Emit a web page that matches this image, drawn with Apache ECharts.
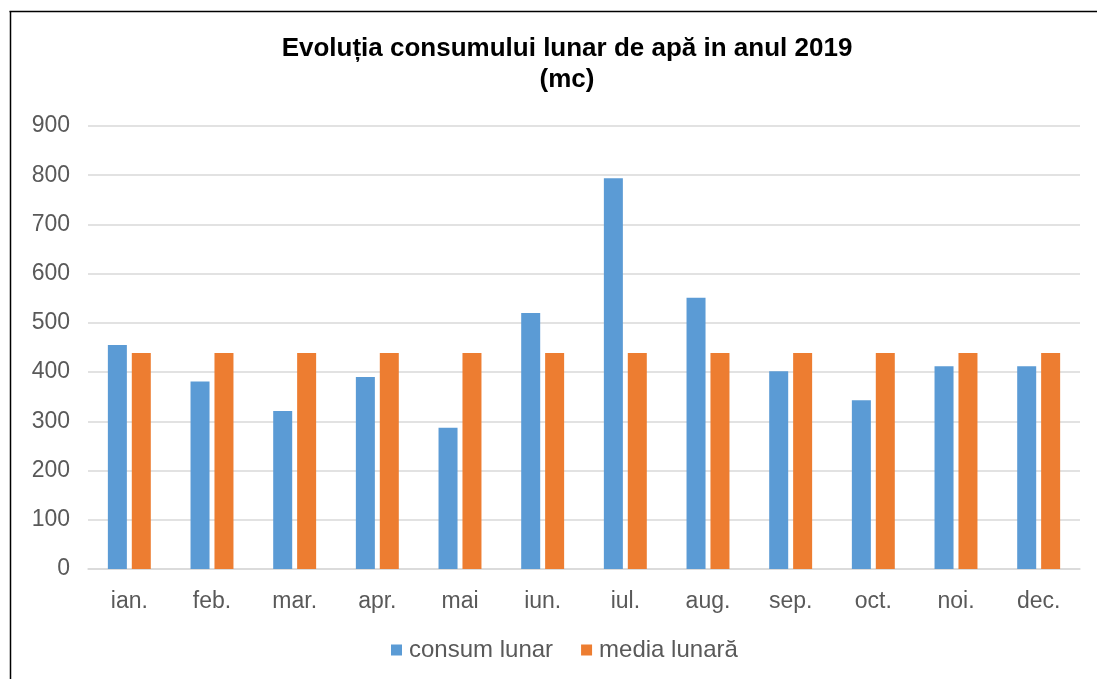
<!DOCTYPE html>
<html>
<head>
<meta charset="utf-8">
<script src="https://cdn.jsdelivr.net/npm/echarts@6/dist/echarts.min.js"></script>
<style>
html,body{margin:0;padding:0;background:#fff;}
#chart{width:1097px;height:679px;}
</style>
</head>
<body>
<div id="chart"></div>
<script>
var categories = ['ian.','feb.','mar.','apr.','mai','iun.','iul.','aug.','sep.','oct.','noi.','dec.'];
var consumLunar = [455, 381, 321, 390, 287, 520, 794, 551, 402, 343, 412, 412];
var mediaLunara = [439, 439, 439, 439, 439, 439, 439, 439, 439, 439, 439, 439];
var seriesNames = ['consum lunar', 'media lunară'];

var chart = echarts.init(document.getElementById('chart'));
var font = 'Liberation Sans, Arial, sans-serif';
chart.setOption({
  animation: false,
  title: {
    text: 'Evoluția consumului lunar de apă in anul 2019\n(mc)',
    left: 562, top: 28, textAlign: 'center',
    textStyle: {fontFamily: font, fontSize: 26, fontWeight: 'bold', color: '#000', lineHeight: 31}
  },
  graphic: [
    {type: 'line', silent: true, shape: {x1: 9.5, y1: 11.5, x2: 1097, y2: 11.5},
     style: {stroke: '#000', lineWidth: 1.5}},
    {type: 'line', silent: true, shape: {x1: 10.5, y1: 11, x2: 10.5, y2: 679},
     style: {stroke: '#000', lineWidth: 1.5}}
  ],
  legend: {
    bottom: 12, left: 386,
    itemWidth: 11, itemHeight: 11, itemGap: 28,
    icon: 'rect',
    textStyle: {fontFamily: font, fontSize: 24, color: '#595959', padding: [0, 0, 0, 2]},
    data: seriesNames
  },
  grid: {left: 88, right: 17, top: 126, bottom: 110},
  xAxis: {
    type: 'category', data: categories,
    axisLine: {lineStyle: {color: '#d9d9d9', width: 1.5}},
    axisTick: {show: false},
    axisLabel: {fontFamily: font, fontSize: 23, color: '#595959', margin: 21}
  },
  yAxis: {
    type: 'value', min: 0, max: 900, interval: 100,
    axisLine: {show: false}, axisTick: {show: false},
    splitLine: {lineStyle: {color: '#d9d9d9', width: 1.5}},
    axisLabel: {fontFamily: font, fontSize: 23, color: '#595959', margin: 18}
  },
  series: [
    {name: seriesNames[0], type: 'bar', data: consumLunar, barWidth: 19, barGap: '26%',
     itemStyle: {color: '#5b9bd5'}},
    {name: seriesNames[1], type: 'bar', data: mediaLunara, barWidth: 19,
     itemStyle: {color: '#ed7d31'}}
  ]
});
</script>
</body>
</html>
